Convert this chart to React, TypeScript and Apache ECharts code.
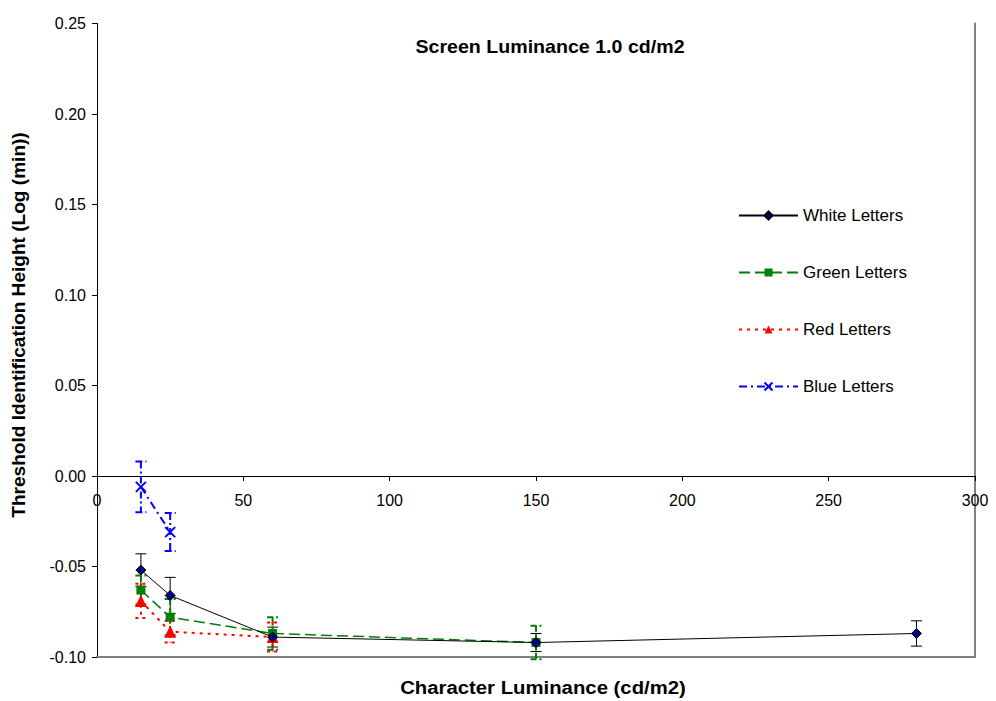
import React, { useEffect, useRef } from "react";
import * as echarts from "echarts";

const xWhite = [15, 25, 60, 150, 280];
const yWhite = [-0.052, -0.066, -0.089, -0.092, -0.087];
const eWhite = [0.009, 0.01, 0.0055, 0.005, 0.007];

const xGreen = [15, 25, 60, 150];
const yGreen = [-0.063, -0.078, -0.087, -0.092];
const eGreen = [0.008, 0.01, 0.009, 0.0092];

const xRed = [15, 25, 60];
const yRed = [-0.069, -0.086, -0.089];
const eRed = [0.0095, 0.006, 0.008];

const xBlue = [15, 25];
const yBlue = [-0.006, -0.031];
const eBlue = [0.014, 0.0105];

const seriesNames = ["White Letters", "Green Letters", "Red Letters", "Blue Letters"];
const title = "Screen Luminance 1.0 cd/m2";
const xTitle = "Character Luminance (cd/m2)";
const yTitle = "Threshold Identification Height (Log (min))";

const X_MIN = 0;
const X_MAX = 300;
const X_STEP = 50;
const Y_MIN = -0.1;
const Y_MAX = 0.25;
const Y_STEP = 0.05;

const FONT = "'Liberation Sans', Arial, sans-serif";
const W = 996;
const H = 701;
const GRID = { left: 97, right: 21, top: 23.5, bottom: 44 };
const plotH = H - GRID.top - GRID.bottom;
const zeroOffset = -plotH * (0 - Y_MIN) / (Y_MAX - Y_MIN);

const pairs = (xs: number[], ys: number[]) => xs.map((x, i) => [x, ys[i]]);
const triples = (xs: number[], ys: number[], es: number[]) =>
  xs.map((x, i) => [x, ys[i], es[i]]);

function errorSeries(
  name: string,
  data: number[][],
  color: string,
  width: number,
  dash: any,
  z: number
) {
  return {
    type: "custom",
    name,
    data,
    z,
    encode: { x: 0, y: 1 },
    silent: true,
    renderItem: (params: any, api: any) => {
      const x = api.value(0);
      const y = api.value(1);
      const e = api.value(2);
      const top = api.coord([x, y + e]);
      const bot = api.coord([x, y - e]);
      const hw = 5.5;
      const style = { stroke: color, lineWidth: width, lineDash: dash, fill: null };
      return {
        type: "group",
        children: [
          { type: "line", shape: { x1: top[0], y1: top[1], x2: bot[0], y2: bot[1] }, style },
          { type: "line", shape: { x1: top[0] - hw, y1: top[1], x2: top[0] + hw, y2: top[1] }, style },
          { type: "line", shape: { x1: bot[0] - hw, y1: bot[1], x2: bot[0] + hw, y2: bot[1] }, style },
        ],
      };
    },
  };
}

export default function App() {
  const ref = useRef<HTMLDivElement>(null);
  useEffect(() => {
    if (!ref.current) return;
    const chart = echarts.init(ref.current, null, { renderer: "svg" });
    const labelStyle = { color: "#000", fontFamily: FONT, fontSize: 16 };
    chart.setOption({
      animation: false,
      backgroundColor: "#fff",
      grid: { ...GRID, containLabel: false },
      legend: {
        orient: "vertical",
        left: 733,
        top: 202,
        itemWidth: 59,
        itemHeight: 10,
        itemGap: 40,
        data: seriesNames,
        textStyle: { fontFamily: FONT, fontSize: 17, color: "#000" },
      },
      xAxis: [
        {
          type: "value",
          min: X_MIN,
          max: X_MAX,
          interval: X_STEP,
          position: "bottom",
          offset: zeroOffset,
          axisLine: { show: true, onZero: false, lineStyle: { color: "#000", width: 1 } },
          axisTick: { show: true, length: 5, lineStyle: { color: "#000" } },
          axisLabel: { ...labelStyle, margin: 16 },
          splitLine: { show: false },
        },
        {
          type: "value",
          min: X_MIN,
          max: X_MAX,
          position: "bottom",
          axisLine: { show: true, onZero: false, lineStyle: { color: "#808080", width: 2 } },
          axisTick: { show: false },
          axisLabel: { show: false },
          splitLine: { show: false },
        },
      ],
      yAxis: [
        {
          type: "value",
          min: Y_MIN,
          max: Y_MAX,
          interval: Y_STEP,
          axisLine: { show: true, onZero: false, lineStyle: { color: "#000", width: 1 } },
          axisTick: { show: true, length: 5, lineStyle: { color: "#000" } },
          axisLabel: { ...labelStyle, margin: 11, formatter: (v: number) => v.toFixed(2) },
          splitLine: { show: false },
        },
        {
          type: "value",
          min: Y_MIN,
          max: Y_MAX,
          position: "right",
          axisLine: { show: true, onZero: false, lineStyle: { color: "#808080", width: 2 } },
          axisTick: { show: false },
          axisLabel: { show: false },
          splitLine: { show: false },
        },
      ],
      graphic: [
        {
          type: "text",
          x: 550,
          y: 47,
          scaleX: 1.09,
          style: {
            text: title,
            font: `bold 18px ${FONT}`,
            fill: "#000",
            textAlign: "center",
            textVerticalAlign: "middle",
          },
        },
        {
          type: "text",
          x: 543,
          y: 688,
          scaleX: 1.13,
          style: {
            text: xTitle,
            font: `bold 18px ${FONT}`,
            fill: "#000",
            textAlign: "center",
            textVerticalAlign: "middle",
          },
        },
        {
          type: "text",
          x: 19,
          y: 325,
          rotation: Math.PI / 2,
          scaleX: 1.06,
          style: {
            text: yTitle,
            font: `bold 18px ${FONT}`,
            fill: "#000",
            textAlign: "center",
            textVerticalAlign: "middle",
          },
        },
      ],
      series: [
        errorSeries("err-white", triples(xWhite, yWhite, eWhite), "#000", 1, null, 2),
        errorSeries("err-green", triples(xGreen, yGreen, eGreen), "#008000", 2, [6, 3], 2),
        errorSeries("err-red", triples(xRed, yRed, eRed), "#ff0000", 2, [3, 4], 2),
        errorSeries("err-blue", triples(xBlue, yBlue, eBlue), "#0000ff", 2, [7, 3, 2, 3], 2),
        {
          type: "line",
          name: seriesNames[0],
          data: pairs(xWhite, yWhite),
          z: 6,
          symbol: "diamond",
          symbolSize: 10,
          lineStyle: { color: "#000", width: 1 },
          itemStyle: { color: "#000080", borderColor: "#000", borderWidth: 1 },
        },
        {
          type: "line",
          name: seriesNames[1],
          data: pairs(xGreen, yGreen),
          z: 5,
          symbol: "rect",
          symbolSize: 9,
          lineStyle: { color: "#008000", width: 1.5, type: [11, 5] },
          itemStyle: { color: "#008000", borderColor: "#008000", borderWidth: 0 },
        },
        {
          type: "line",
          name: seriesNames[2],
          data: pairs(xRed, yRed),
          z: 5,
          symbol: "triangle",
          symbolSize: 12,
          lineStyle: { color: "#ff0000", width: 2, type: [3, 5] },
          itemStyle: { color: "#ff0000", borderColor: "#ff0000", borderWidth: 0 },
        },
        {
          type: "line",
          name: seriesNames[3],
          data: pairs(xBlue, yBlue),
          z: 5,
          symbol: "path://M0,0L10,10M10,0L0,10",
          symbolSize: 10,
          lineStyle: { color: "#0000ff", width: 2, type: [8, 4, 2, 4] },
          itemStyle: { color: "none", borderColor: "#0000ff", borderWidth: 2 },
        },
      ],
    });
    return () => chart.dispose();
  }, []);
  return (
    <div
      ref={ref}
      style={{ position: "absolute", left: 0, top: 0, width: W, height: H }}
    />
  );
}
